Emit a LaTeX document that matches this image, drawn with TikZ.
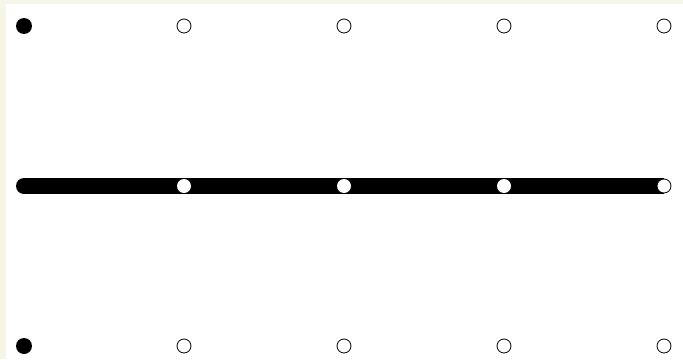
\documentclass[tikz,border=0pt]{standalone}
\usepackage{xcolor}
\usepackage{tikz}
\usetikzlibrary{backgrounds}
\definecolor{cream}{RGB}{246,246,232}

\begin{document}
\begin{tikzpicture}[x=1pt,y=-1pt,
    dot/.style={circle, fill=black, minimum size=16pt, inner sep=0pt},
    hole/.style={circle, draw=black, fill=white, line width=0.8pt, minimum size=14pt, inner sep=0pt},
    gap/.style={circle, fill=white, minimum size=14pt, inner sep=0pt}]
    \useasboundingbox (0,0) rectangle (683,359);
    \foreach \r in {0,1,2} {
      \foreach \c in {0,...,4} {
        \ifnum\c=0
          \node[dot] (p-\c-\r) at (24+160*\c,26+160*\r) {};
        \else
          \ifnum\r=1
            \ifnum\c=4
              \node[hole] (p-\c-\r) at (24+160*\c,26+160*\r) {};
            \else
              \node[gap] (p-\c-\r) at (24+160*\c,26+160*\r) {};
            \fi
          \else
            \node[hole] (p-\c-\r) at (24+160*\c,26+160*\r) {};
          \fi
        \fi
      }
    }
    \begin{scope}[on background layer]
      \fill[cream] (0,0) rectangle (683,359);
      \fill[white] (6,4) rectangle (683,359);
      \draw[line width=16pt] (p-0-1.center) -- (p-4-1.center);
    \end{scope}
  \end{tikzpicture}
\end{document}
